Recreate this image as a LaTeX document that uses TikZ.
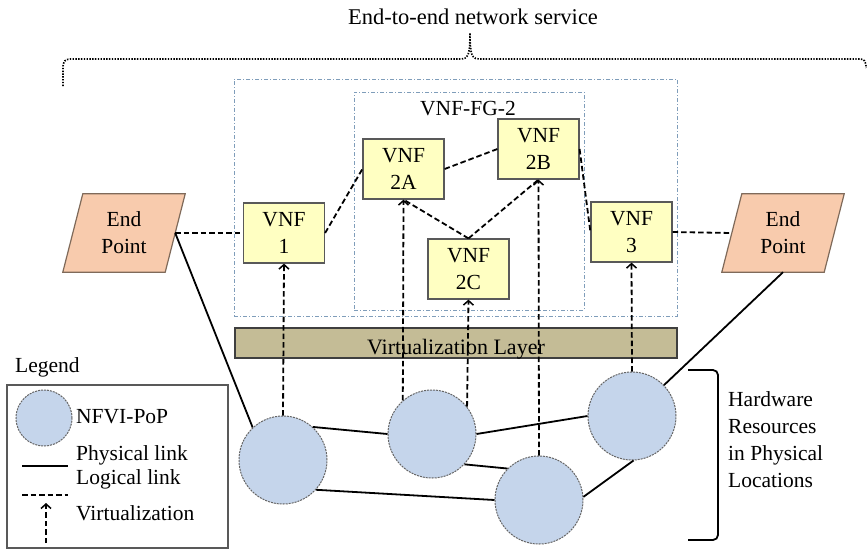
\documentclass[tikz,border=0pt]{standalone}
\usepackage{fontspec}
\setmainfont{Liberation Serif}
\usetikzlibrary{arrows.meta,backgrounds,calc}
\definecolor{vnffill}{HTML}{FFFFC2}
\definecolor{vnfdraw}{HTML}{595959}
\definecolor{epfill}{HTML}{F8CBAD}
\definecolor{epdraw}{HTML}{7F6A5A}
\definecolor{popfill}{HTML}{C5D5EB}
\definecolor{popdraw}{HTML}{666666}
\definecolor{vlfill}{HTML}{C4BC96}
\definecolor{vldraw}{HTML}{3F3F3F}
\definecolor{grpdraw}{HTML}{7F9DBA}
\begin{document}
\begin{tikzpicture}[x=1pt,y=-1pt,
  font=\fontsize{21.5}{27}\selectfont,
  vnf/.style={draw=vnfdraw, line width=1.2pt, fill=vnffill, minimum width=81, minimum height=60, inner sep=0pt, align=center},
  eptext/.style={minimum width=102, minimum height=78, inner sep=0pt, align=center},
  epshape/.style={draw=epdraw, line width=1.2pt, fill=epfill},
  pop/.style={circle, draw=popdraw, fill=popfill, line width=1pt, dash pattern=on 2pt off 1pt, minimum size=88, inner sep=0pt},
  grp/.style={draw=grpdraw, line width=0.8pt, dash pattern=on 4pt off 2pt on 1pt off 2pt, minimum width=10, inner sep=0pt},
  phys/.style={line width=1.8pt, black},
  logi/.style={line width=1.8pt, black, dash pattern=on 5.5pt off 3pt},
  virt/.style={logi, -{Straight Barb[length=4.5pt,width=10pt,line width=1.5pt]}},
  brace/.style={line width=1.7pt, black, dash pattern=on 1.4pt off 1.4pt},
  legtext/.style={anchor=base west, inner sep=0pt}]
\useasboundingbox (0,0) rectangle (867,550);

% title and brace
\node[anchor=base, font=\fontsize{22.5}{27}\selectfont] (title) at (473,24) {End-to-end network service};
\draw[brace] (63,86) -- (63,68) .. controls (63,61) and (65,59) .. (72,59) -- (460,59)
  .. controls (468,59) and (470,56) .. (470,33)
  .. controls (470,56) and (472,59) .. (480,59) -- (860,59) .. controls (864,59) and (866,61) .. (866,68);

% group boxes
\node[grp, minimum width=443, minimum height=237] (outer) at (455.5,197.5) {};
\node[grp, minimum width=230, minimum height=218] (inner) at (469,201) {};
\node (fglabel) at (468,109) {VNF-FG-2};

% virtualization layer
\node[draw=vldraw, line width=1.2pt, fill=vlfill, minimum width=442, minimum height=30, inner sep=0pt,
  text height=22pt, text depth=0pt, font=\fontsize{22}{27}\selectfont] (vl) at (456,343) {Virtualization Layer};

% VNFs
\node[vnf] (v1) at (284,233) {VNF\\1};
\node[vnf] (v2a) at (403.5,169) {VNF\\2A};
\node[vnf] (v2b) at (538.5,149) {VNF\\2B};
\node[vnf] (v2c) at (468.5,269) {VNF\\2C};
\node[vnf] (v3) at (631.5,232) {VNF\\3};

% end points
\node[eptext] (ep1) at (124,233) {End\\Point};
\node[eptext] (ep2) at (783,233) {End\\Point};
\begin{scope}[on background layer]
  \draw[epshape] ([xshift=-10pt]ep1.south west) -- ([xshift=-10pt]ep1.south east)
    -- ([xshift=10pt]ep1.north east) -- ([xshift=10pt]ep1.north west) -- cycle;
  \draw[epshape] ([xshift=-10pt]ep2.south west) -- ([xshift=-10pt]ep2.south east)
    -- ([xshift=10pt]ep2.north east) -- ([xshift=10pt]ep2.north west) -- cycle;
\end{scope}

% NFVI-PoPs
\node[pop] (c1) at (283,460) {};
\node[pop] (c2) at (432,434) {};
\node[pop] (c3) at (539,500) {};
\node[pop] (c4) at (632,416) {};

% logical links
\draw[logi] (ep1.east) -- (v1.west);
\draw[logi] (v1.east) -- (v2a.west);
\draw[logi] (v2a.east) -- (v2b.west);
\draw[logi] (v2c.north) -- (v2a.south);
\draw[logi] (v2c.north) -- (v2b.south);
\draw[logi] (v2b.east) -- (v3.west);
\draw[logi] (v3.east) -- (ep2.west);

% physical links
\draw[phys] (ep1.east) -- (c1.133);
\draw[phys] (c1.48) -- (c2.180);
\draw[phys] (c1.-42) -- (c3.180);
\draw[phys] (c2.-43) -- (c3.135);
\draw[phys] (c2.0) -- (c4.180);
\draw[phys] (c3.4) -- (c4.-88);
\draw[phys] (c4.44) -- (ep2.south);

% virtualization
\draw[virt] (c1.north) -- (v1.south);
\draw[virt] (c2.131) -- (v2a.south);
\draw[virt] (c2.38) -- (v2c.south);
\draw[virt] (c3.north) -- (v2b.south);
\draw[virt] (c4.north) -- (v3.south);

% hardware bracket
\coordinate (hb1) at (688,370);
\coordinate (hb2) at (718,370);
\coordinate (hb3) at (718,540);
\coordinate (hb4) at (688,540);
\draw[line width=1.8pt, rounded corners=5pt] (hb1) -- (hb2) -- (hb3) -- (hb4);
\node[anchor=west, inner sep=0pt, align=left] (hw) at (728,439.5) {Hardware\\Resources\\in Physical\\Locations};

% legend
\node[legtext] (lgt) at (15,372) {Legend};
\node[draw=vnfdraw, line width=1.1pt, minimum width=221, minimum height=163, inner sep=0pt] (lg) at (117.5,466.5) {};
\node[pop, minimum size=56] (lc) at (44,418) {};
\node[legtext] (l1) at (76,423) {NFVI-PoP};
\node[legtext] (l2) at (76,460) {Physical link};
\node[legtext] (l3) at (76,484) {Logical link};
\node[legtext] (l4) at (76,520) {Virtualization};
\coordinate (lpa) at (22,466);
\coordinate (lpb) at (68,466);
\coordinate (lla) at (22,495);
\coordinate (llb) at (68,495);
\coordinate (lva) at (46,543);
\coordinate (lvb) at (46,503);
\draw[phys] (lpa) -- (lpb);
\draw[logi] (lla) -- (llb);
\draw[virt] (lva) -- (lvb);
\end{tikzpicture}
\end{document}
